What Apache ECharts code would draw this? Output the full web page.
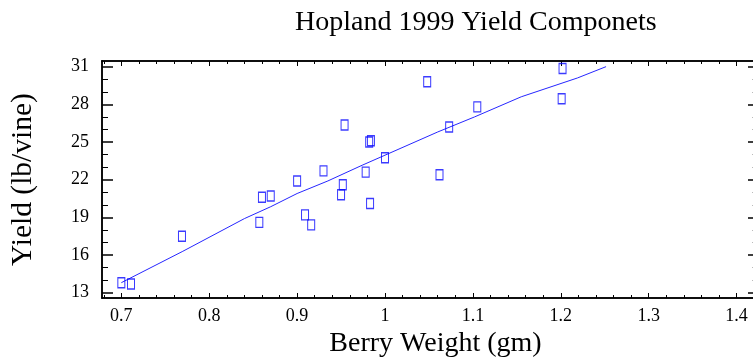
<!DOCTYPE html>
<html>
<head>
<meta charset="utf-8">
<script src="https://cdn.jsdelivr.net/npm/echarts@6/dist/echarts.min.js"></script>
<style>html,body{margin:0;padding:0;background:#fff;}#c{width:753px;height:364px;}</style>
</head>
<body>
<div id="c"></div>
<script>
// Observed data (berry weight gm, yield lb/vine)
const berryWeight = [0.700, 0.711, 0.769, 0.857, 0.860, 0.870, 0.900, 0.909, 0.916, 0.930,
  0.954, 0.982, 0.984, 1.000, 0.978, 1.062, 1.073, 1.105, 1.202, 1.201, 0.952, 0.950, 0.983, 1.048];
const yieldVals = [13.8, 13.7, 17.5, 18.6, 20.6, 20.7, 21.9, 19.2, 18.4, 22.7,
  26.35, 25.0, 25.1, 23.75, 22.6, 22.4, 26.2, 27.8, 30.85, 28.45, 21.6, 20.8, 20.1, 29.8];
// Fitted line
const fitX = [0.70, 0.77, 0.84, 0.87, 0.90, 0.935, 0.974, 1.06, 1.102, 1.155, 1.219, 1.2515];
const fitY = [13.8, 16.3, 18.9, 19.85, 20.9, 21.9, 23.15, 25.8, 27.0, 28.6, 30.1, 31.0];
// Ticks
const xMajorTicks = [0.7, 0.8, 0.9, 1, 1.1, 1.2, 1.3, 1.4];
const yMajorTicks = [13, 16, 19, 22, 25, 28, 31];
const xMinorTicks = [];
for (let i = 34; i <= 70; i++) { if (i % 5 !== 0) xMinorTicks.push(i / 50); }
const yMinorTicks = [];
for (let v = 13; v <= 31; v++) { if ((v - 13) % 3 !== 0) yMinorTicks.push(v); }

const X_MIN = 0.678, X_MAX = 1.4187, Y_MIN = 12.58, Y_MAX = 31.45;
const FONT = 'Liberation Serif';

const scatterData = berryWeight.map((x, i) => [x, yieldVals[i]]);
const fitData = fitX.map((x, i) => [x, fitY[i]]);

function xAx(grid, pos, ticks, len, opts) {
  return Object.assign({
    type: 'value', gridIndex: grid, position: pos, min: X_MIN, max: X_MAX,
    axisLine: { show: true, lineStyle: { color: '#000', width: 1.5 } },
    axisTick: { show: true, inside: true, length: len, customValues: ticks, lineStyle: { color: '#000', width: 1 } },
    axisLabel: { show: false },
    splitLine: { show: false }
  }, opts || {});
}
function yAx(grid, pos, ticks, len, opts) {
  return Object.assign({
    type: 'value', gridIndex: grid, position: pos, min: Y_MIN, max: Y_MAX,
    axisLine: { show: pos === 'left', lineStyle: { color: '#000', width: 1.5 } },
    axisTick: { show: true, inside: true, length: len, customValues: ticks, lineStyle: { color: '#000', width: 1.5 } },
    axisLabel: { show: false },
    splitLine: { show: false }
  }, opts || {});
}

const gridRect = { left: 102, right: -3, top: 61, bottom: 66 };
const chart = echarts.init(document.getElementById('c'));
chart.setOption({
  animation: false,
  backgroundColor: '#fff',
  title: {
    text: 'Hopland 1999 Yield Componets', left: 290, top: 4,
    textStyle: { fontFamily: FONT, fontSize: 28, fontWeight: 'normal', color: '#000' }
  },
  grid: [Object.assign({}, gridRect), Object.assign({}, gridRect)],
  xAxis: [
    xAx(0, 'bottom', xMajorTicks, 5, {
      axisLabel: { show: true, customValues: xMajorTicks, margin: 9, color: '#000', fontFamily: FONT, fontSize: 18 },
      name: 'Berry Weight (gm)', nameLocation: 'middle', nameGap: 31,
      nameTextStyle: { fontFamily: FONT, fontSize: 28, color: '#000', padding: [0, 0, 0, 16] }
    }),
    xAx(0, 'top', xMajorTicks, 5),
    xAx(1, 'bottom', xMinorTicks, 3),
    xAx(1, 'top', xMinorTicks, 3)
  ],
  yAxis: [
    yAx(0, 'left', yMajorTicks, 11, {
      axisLabel: { show: true, customValues: yMajorTicks, margin: 13, color: '#000', fontFamily: FONT, fontSize: 18 },
      name: 'Yield (lb/vine)', nameLocation: 'middle', nameGap: 64, nameRotate: 90,
      nameTextStyle: { fontFamily: FONT, fontSize: 29.5, color: '#000' }
    }),
    yAx(0, 'right', yMajorTicks, 5),
    yAx(1, 'left', yMinorTicks, 6, { axisTick: { show: true, inside: true, length: 6, customValues: yMinorTicks, lineStyle: { color: '#000', width: 1 } } }),
    yAx(1, 'right', yMinorTicks, 1, { axisTick: { show: true, inside: true, length: 1, customValues: yMinorTicks, lineStyle: { color: '#bbb', width: 1 } } })
  ],
  series: [
    {
      type: 'line', xAxisIndex: 0, yAxisIndex: 0, data: fitData,
      showSymbol: false, symbol: 'none', smooth: false,
      lineStyle: { color: '#2626ff', width: 1 }, z: 2
    },
    {
      type: 'scatter', xAxisIndex: 0, yAxisIndex: 0, data: scatterData,
      symbol: 'rect', symbolSize: [7, 10],
      itemStyle: { color: 'rgba(0,0,0,0)', borderColor: '#0a0aff', borderWidth: 1.2 }, z: 3
    }
  ]
});
</script>
</body>
</html>
